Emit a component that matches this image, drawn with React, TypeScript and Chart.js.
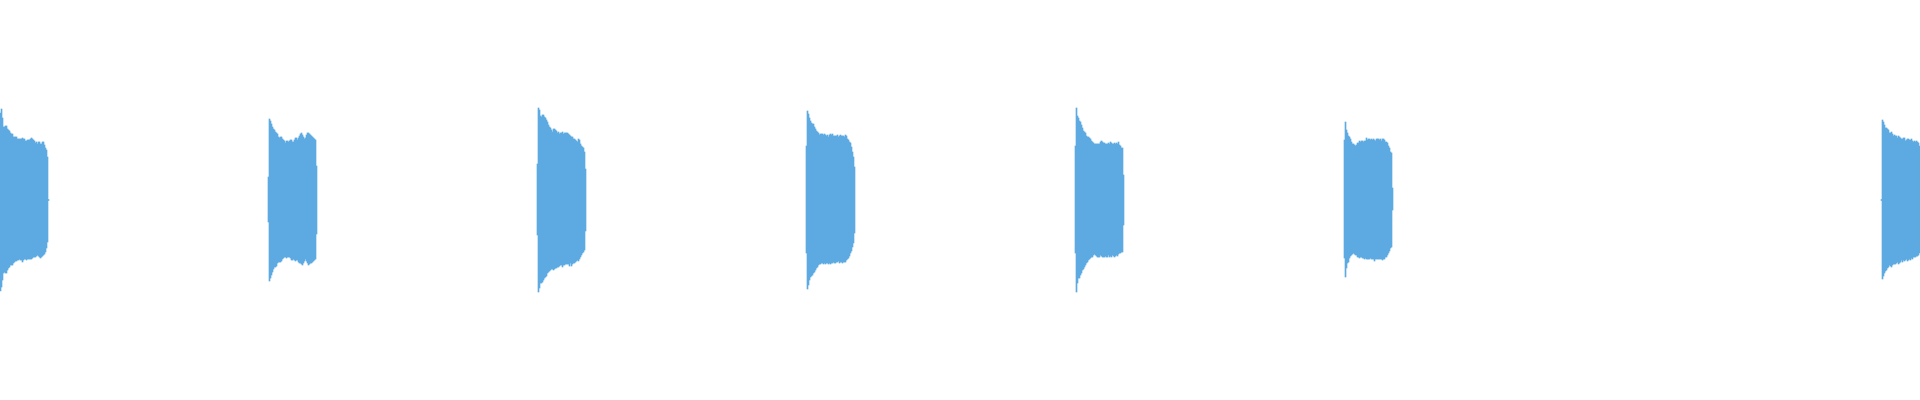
import React, { useEffect, useRef } from "react";
import { Chart, registerables } from "chart.js";

Chart.register(...registerables);

// Sample index at which each burst starts
const burstStarts: number[] = [0, 268, 537, 806, 1075, 1344, 1881];

// Upper envelope (max amplitude) per sample column, one array per burst
const burst1Top: number[] = [87, 91, 82, 73, 73, 74, 74, 71, 70, 69, 67, 66, 66, 63, 63, 63, 63, 61, 61, 61, 61, 61, 62, 61, 61, 59, 59, 60, 60, 60, 61, 62, 61, 60, 59, 57, 58, 56, 58, 58, 56, 56, 58, 58, 55, 52, 50, 43, 0.5];
const burst1Bottom: number[] = [-91, -87, -80, -73, -72, -73, -73, -70, -68, -67, -65, -65, -65, -63, -62, -61, -61, -60, -60, -59, -60, -60, -62, -60, -59, -59, -60, -59, -59, -59, -59, -59, -58, -57, -57, -57, -56, -55, -56, -57, -58, -57, -56, -55, -54, -52, -48, -42, -0.5];

const burst2Top: number[] = [23, 81, 79, 76, 73, 71, 70, 68, 67, 66, 63, 62, 63, 63, 61, 60, 59, 57, 59, 59, 58, 59, 60, 60, 58, 58, 60, 62, 62, 60, 62, 64, 66, 67, 65, 63, 61, 62, 65, 67, 67, 66, 65, 64, 63, 62, 61, 60, 34];
const burst2Bottom: number[] = [-22, -81, -78, -75, -72, -69, -67, -67, -66, -63, -62, -62, -62, -61, -59, -58, -57, -57, -58, -57, -57, -57, -58, -60, -60, -59, -60, -61, -60, -60, -62, -63, -63, -64, -65, -63, -61, -59, -61, -63, -65, -64, -63, -63, -62, -61, -60, -59, -34];

const burst3Top: number[] = [36, 92, 90, 84, 83, 85, 85, 83, 82, 80, 78, 75, 73, 72, 70, 68, 71, 71, 70, 69, 67, 68, 66, 67, 67, 68, 66, 67, 67, 67, 67, 66, 65, 64, 63, 63, 61, 61, 60, 59, 58, 61, 60, 56, 54, 53, 52, 48, 31];
const burst3Bottom: number[] = [-35, -92, -88, -83, -83, -82, -80, -78, -77, -76, -73, -72, -71, -70, -69, -69, -70, -69, -68, -68, -67, -67, -66, -65, -65, -67, -65, -65, -64, -64, -64, -64, -66, -63, -66, -64, -63, -63, -62, -61, -60, -61, -59, -57, -55, -53, -52, -50, -31];

const burst4Top: number[] = [54, 89, 86, 82, 79, 77, 76, 76, 73, 71, 69, 68, 67, 65, 66, 66, 66, 65, 66, 65, 64, 65, 63, 65, 66, 65, 66, 64, 64, 64, 64, 65, 63, 64, 65, 64, 64, 64, 63, 65, 64, 61, 60, 58, 57, 53, 48, 43, 33];
const burst4Bottom: number[] = [-53, -89, -85, -80, -77, -76, -75, -73, -72, -70, -68, -67, -65, -64, -64, -63, -63, -64, -63, -64, -63, -63, -64, -63, -64, -63, -63, -62, -63, -63, -62, -62, -61, -63, -62, -62, -63, -62, -62, -62, -60, -59, -58, -56, -53, -51, -47, -43, -33];

const burst5Top: number[] = [54, 92, 84, 82, 79, 78, 75, 72, 69, 68, 67, 64, 63, 63, 62, 61, 59, 58, 57, 56, 56, 56, 56, 56, 56, 58, 59, 58, 57, 57, 56, 56, 56, 57, 56, 58, 57, 56, 56, 57, 56, 57, 56, 58, 55, 54, 52, 52, 25];
const burst5Bottom: number[] = [-53, -92, -83, -78, -78, -75, -73, -70, -69, -67, -65, -63, -62, -60, -59, -58, -57, -57, -55, -54, -55, -56, -57, -57, -57, -55, -56, -57, -57, -57, -56, -57, -57, -55, -57, -56, -57, -55, -56, -57, -56, -55, -56, -54, -53, -53, -52, -52, -25];

const burst6Top: number[] = [60, 78, 70, 67, 64, 63, 61, 58, 56, 56, 55, 54, 55, 57, 57, 59, 58, 59, 59, 58, 59, 59, 62, 60, 61, 61, 60, 61, 60, 61, 60, 59, 61, 61, 61, 60, 61, 59, 61, 61, 60, 58, 58, 57, 54, 52, 48, 47, 12];
const burst6Bottom: number[] = [-58, -77, -68, -63, -62, -58, -56, -55, -54, -53, -54, -55, -55, -57, -57, -58, -57, -57, -58, -58, -59, -58, -59, -59, -59, -59, -58, -59, -59, -59, -61, -59, -59, -59, -59, -59, -59, -59, -60, -59, -59, -57, -57, -55, -53, -51, -48, -47, -10];

const burst7Top: number[] = [0.5, 80, 78, 75, 72, 72, 71, 70, 67, 67, 68, 66, 64, 65, 64, 64, 62, 64, 63, 62, 61, 61, 62, 62, 59, 60, 61, 61, 60, 60, 61, 59, 58, 59, 58, 59, 58, 57, 54];
const burst7Bottom: number[] = [-0.5, -79, -76, -73, -71, -70, -68, -67, -65, -66, -67, -65, -64, -64, -64, -63, -62, -64, -63, -62, -60, -62, -60, -61, -60, -59, -61, -60, -59, -60, -58, -59, -57, -57, -57, -56, -56, -55, -53];

const burstTops: number[][] = [burst1Top, burst2Top, burst3Top, burst4Top, burst5Top, burst6Top, burst7Top];
const burstBottoms: number[][] = [burst1Bottom, burst2Bottom, burst3Bottom, burst4Bottom, burst5Bottom, burst6Bottom, burst7Bottom];

const TOTAL_SAMPLES = 1920;
const AMP_RANGE = 200;
const WAVE_COLOR = "rgb(93, 170, 225)";

export default function App() {
  const canvasRef = useRef<HTMLCanvasElement | null>(null);

  useEffect(() => {
    document.body.style.margin = "0";
    const canvas = canvasRef.current;
    if (!canvas) return;

    const points: { x: number; y: [number, number] }[] = [];
    burstStarts.forEach((start, b) => {
      const tops = burstTops[b];
      const bottoms = burstBottoms[b];
      for (let i = 0; i < tops.length; i++) {
        points.push({ x: start + i + 0.5, y: [bottoms[i], tops[i]] });
      }
    });

    const chart = new Chart(canvas, {
      type: "bar",
      data: {
        datasets: [
          {
            data: points as any,
            backgroundColor: WAVE_COLOR,
            borderWidth: 0,
            barThickness: 1,
          },
        ],
      },
      options: {
        animation: false,
        responsive: false,
        maintainAspectRatio: false,
        layout: { padding: 0 },
        plugins: {
          legend: { display: false },
          title: { display: false },
          tooltip: { enabled: false },
        },
        scales: {
          x: {
            type: "linear",
            min: 0,
            max: TOTAL_SAMPLES,
            offset: false,
            display: false,
          },
          y: { min: -AMP_RANGE, max: AMP_RANGE, display: false },
        },
      },
    });

    return () => {
      chart.destroy();
    };
  }, []);

  return (
    <div style={{ width: 1920, height: 400, background: "#fff" }}>
      <canvas ref={canvasRef} width={1920} height={400} style={{ display: "block" }} />
    </div>
  );
}
